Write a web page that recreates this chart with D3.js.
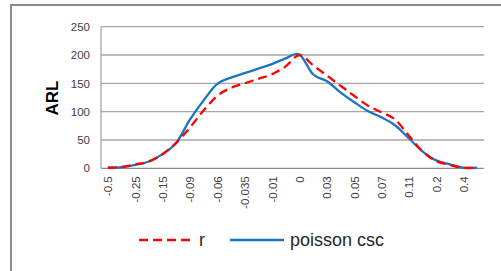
<!DOCTYPE html>
<html>
  <head>
    <meta charset="utf-8">
    <title>ARL</title>
    <script src="https://d3js.org/d3.v7.min.js"></script>
    <style>
      body { margin: 0; background: #fff; }
      .chart text { font-family: "Liberation Sans", Arial, sans-serif; }
      .tick text { fill: #404040; font-size: 11px; }
    </style>
  </head>
  <body>
    <div class="chart" id="chart"></div>
    <script>
      "use strict"

      // categorias do eixo x (só uma em cada duas recebe rótulo)
      var categorias = ["-0.5", "-0.3", "-0.25", "-0.2", "-0.15", "-0.1", "-0.09", "-0.07",
                        "-0.06", "-0.04", "-0.035", "-0.02", "-0.01", "-0.005", "0", "0.01",
                        "0.03", "0.04", "0.05", "0.06", "0.07", "0.1", "0.11", "0.15",
                        "0.2", "0.3", "0.4", "0.5"]
      var serieR = [1, 2.5, 7, 12, 25, 45, 72, 102, 128, 142, 150, 158, 166, 180, 200, 182,
                    164, 146, 128, 111, 99, 86, 58, 30, 13, 6, 1, 1]
      var seriePoisson = [1, 2, 6, 12, 25, 45, 86, 120, 149, 160, 168, 176, 184, 194, 201, 166,
                          154, 134, 117, 101, 90, 76, 53, 30, 14, 7, 1, 1]
      var yTicks = [0, 50, 100, 150, 200, 250]
      var nomes = ["r", "poisson csc"]

      var largura = 501, altura = 271
      var area = {left: 101, right: 484, top: 26.7, bottom: 168.3}

      var svg = d3.select("#chart").append("svg")
          .attr("width", largura)
          .attr("height", altura)

      // moldura externa (cortada à direita e embaixo)
      svg.append("rect")
        .attr("x", 11).attr("y", 5)
        .attr("width", 520).attr("height", 300)
        .attr("fill", "none")
        .attr("stroke", "#8c8c8c")
        .attr("stroke-width", 2)

      var x = d3.scalePoint().domain(categorias).range([area.left, area.right]).padding(0.5)
      var y = d3.scaleLinear().domain([0, 250]).range([area.bottom, area.top])

      // linhas de grade
      svg.append("g")
        .selectAll("line")
        .data(yTicks)
        .enter()
          .append("line")
          .attr("x1", area.left).attr("x2", area.right)
          .attr("y1", d => y(d)).attr("y2", d => y(d))
          .attr("stroke", d => d === 0 ? "#8c8c8c" : "#a6a6a6")
          .attr("stroke-width", 1.3)

      svg.append("line")
        .attr("x1", area.left).attr("x2", area.left)
        .attr("y1", area.top).attr("y2", area.bottom)
        .attr("stroke", "#a6a6a6").attr("stroke-width", 1.3)

      // eixo y
      var eixoY = svg.append("g")
          .attr("transform", "translate(" + area.left + ",0)")
          .call(d3.axisLeft(y).tickValues(yTicks).tickSize(0).tickPadding(11))
      eixoY.select(".domain").remove()
      eixoY.selectAll("text").style("font-size", "11.5px")

      // eixo x, rótulos verticais em categorias alternadas
      var eixoX = svg.append("g")
          .attr("transform", "translate(0," + area.bottom + ")")
          .call(d3.axisBottom(x).tickSize(0).tickFormat((d, i) => i % 2 === 0 ? d : ""))
      eixoX.select(".domain").remove()
      eixoX.selectAll("text")
        .attr("transform", "rotate(-90)")
        .attr("x", -8)
        .attr("y", 0)
        .attr("dy", "0.35em")
        .style("text-anchor", "end")
        .style("font-size", "11.5px")

      // título do eixo y
      svg.append("text")
        .attr("transform", "translate(58,98) rotate(-90)")
        .attr("text-anchor", "middle")
        .style("font-size", "17px")
        .style("font-weight", "bold")
        .attr("fill", "#000")
        .text("ARL")

      var linha = d3.line()
        .x((d, i) => x(categorias[i]))
        .y(d => y(d))
        .curve(d3.curveCatmullRom.alpha(0))

      svg.append("path")
        .datum(seriePoisson)
        .attr("d", linha)
        .attr("fill", "none")
        .attr("stroke", "#1a75c2")
        .attr("stroke-width", 2.3)

      svg.append("path")
        .datum(serieR)
        .attr("d", linha)
        .attr("fill", "none")
        .attr("stroke", "#ff0000")
        .attr("stroke-width", 2.3)
        .attr("stroke-dasharray", "9,5")

      // legenda
      var legenda = svg.append("g")
      legenda.append("line")
        .attr("x1", 139).attr("x2", 191).attr("y1", 240).attr("y2", 240)
        .attr("stroke", "#ff0000").attr("stroke-width", 2.3)
        .attr("stroke-dasharray", "9,5")
      legenda.append("text")
        .attr("x", 199).attr("y", 246)
        .style("font-size", "18px").attr("fill", "#262626")
        .text(nomes[0])
      legenda.append("line")
        .attr("x1", 230).attr("x2", 284).attr("y1", 240).attr("y2", 240)
        .attr("stroke", "#1a75c2").attr("stroke-width", 2.3)
      legenda.append("text")
        .attr("x", 290).attr("y", 246)
        .style("font-size", "18px").attr("fill", "#262626")
        .text(nomes[1])
    </script>
  </body>
</html>
